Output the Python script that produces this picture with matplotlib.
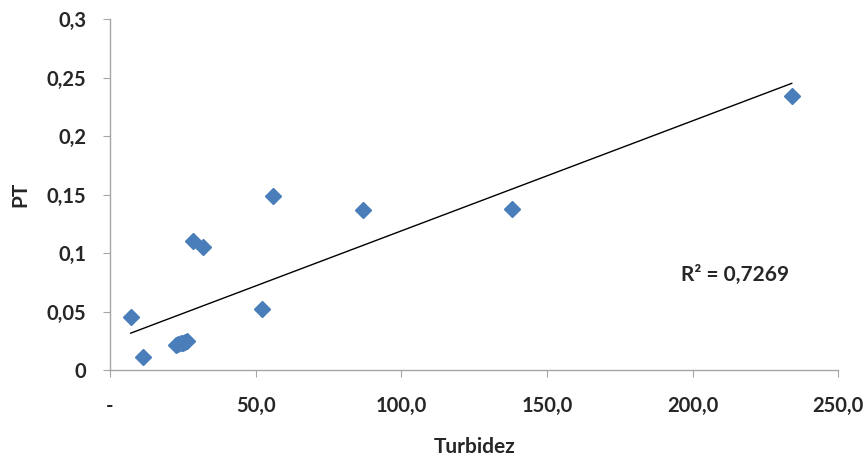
import matplotlib
matplotlib.use("Agg")
import matplotlib.pyplot as plt
import numpy as np

plt.rcParams['font.family'] = ['Lato', 'DejaVu Sans']

# data
turbidez = [7.1, 11.2, 22.5, 23.5, 24.3, 25.0, 25.8, 26.5, 28.4, 31.8, 52.3, 56.1, 87.0, 138.1, 234.0]
pt = [0.045, 0.011, 0.021, 0.022, 0.023, 0.023, 0.024, 0.025, 0.110, 0.105, 0.052, 0.149, 0.137, 0.138, 0.234]
x_ticks = [0, 50, 100, 150, 200, 250]
x_labels = ["-", "50,0", "100,0", "150,0", "200,0", "250,0"]
y_ticks = [0, 0.05, 0.1, 0.15, 0.2, 0.25, 0.3]
y_labels = ["0", "0,05", "0,1", "0,15", "0,2", "0,25", "0,3"]
r2_text = "R² = 0,7269"

fig = plt.figure(figsize=(8.65, 4.59), dpi=100)
ax = fig.add_axes([0.1272, 0.1939, 0.842, 0.7647])

x = np.array(turbidez)
y = np.array(pt)
coef = np.polyfit(x, y, 1)
xl = np.array([x.min(), x.max()])
ax.plot(xl, np.polyval(coef, xl), color='black', lw=1.0, zorder=2)

ax.plot(x, y, ls='none', marker='D', ms=8.5, color='#4A7EBB', mec='#4A7EBB', zorder=3)

ax.set_xlim(0, 250)
ax.set_ylim(0, 0.3)
ax.set_xticks(x_ticks)
ax.set_xticklabels(x_labels)
ax.set_yticks(y_ticks)
ax.set_yticklabels(y_labels)

for s in ['top', 'right']:
    ax.spines[s].set_visible(False)
for s in ['left', 'bottom']:
    ax.spines[s].set_color('#A6A6A6')
    ax.spines[s].set_linewidth(1.0)
ax.tick_params(axis='both', direction='out', length=5, color='#A6A6A6',
               labelsize=14.5, labelcolor='#262626')
ax.tick_params(axis='x', pad=14)
ax.tick_params(axis='y', pad=12)
for lab in ax.get_xticklabels() + ax.get_yticklabels():
    lab.set_fontweight('bold')

ax.set_xlabel("Turbidez", fontsize=15, fontweight='bold', color='#262626', labelpad=15)
ax.set_ylabel("PT", fontsize=15, fontweight='bold', color='#262626', labelpad=12)
ax.text(214.5, 0.0815, r2_text, fontsize=15, fontweight='bold', color='#262626',
        ha='center', va='center')

fig.savefig("out.png", dpi=100)
